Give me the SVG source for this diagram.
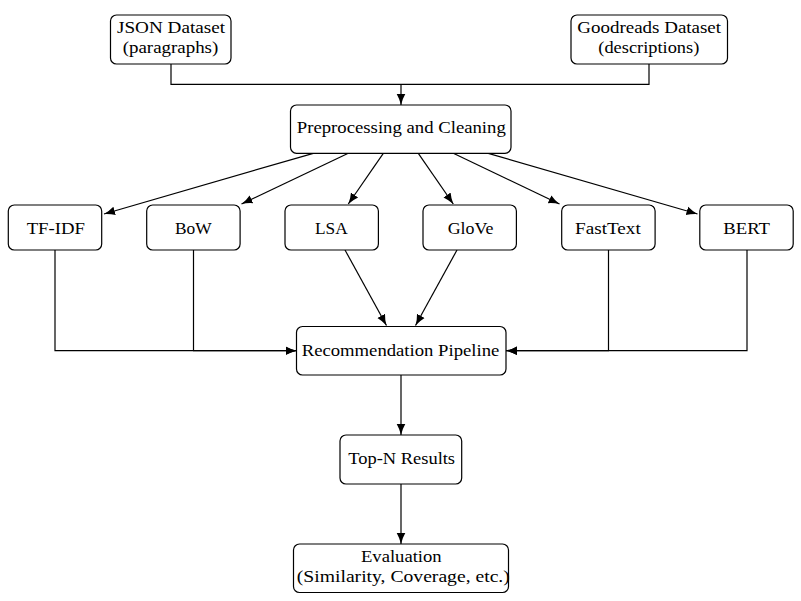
<svg xmlns="http://www.w3.org/2000/svg" width="801" height="601" viewBox="0 0 801 601">
<style>
.box{fill:#fff;stroke:#000;stroke-width:1.2}
text{font-family:'Liberation Serif','Times New Roman','DejaVu Serif',serif;font-size:17px;fill:#000;text-anchor:middle}
.edge{fill:none;stroke:#000;stroke-width:1.2}
</style>
<defs>
<marker id="arr" markerUnits="userSpaceOnUse" markerWidth="14" markerHeight="12" viewBox="0 -6 14 12" refX="11" refY="0" orient="auto">
<path d="M0,-4.3 Q5,-1.4 11,0 Q5,1.4 0,4.3 z" fill="#000"/>
</marker>
</defs>
<rect width="801" height="601" fill="#fff"/>
<g id="connectors">
<path class="edge" d="M171,64 V84.3 H401"/>
<path class="edge" d="M649,64 V84.3 H401"/>
<path class="edge" d="M401,84.3 V105" marker-end="url(#arr)"/>
<path class="edge" d="M313.3,153.3 L104,214" marker-end="url(#arr)"/>
<path class="edge" d="M348.3,153.3 L241.5,204" marker-end="url(#arr)"/>
<path class="edge" d="M383.3,153.3 L348.3,204" marker-end="url(#arr)"/>
<path class="edge" d="M418.3,153.3 L453.3,204" marker-end="url(#arr)"/>
<path class="edge" d="M453.3,153.3 L559.5,204" marker-end="url(#arr)"/>
<path class="edge" d="M488.3,153.3 L697.5,214" marker-end="url(#arr)"/>
<path class="edge" d="M55,250 V350.7 H296.5" marker-end="url(#arr)"/>
<path class="edge" d="M193.5,250 V350.7 H296.5" marker-end="url(#arr)"/>
<path class="edge" d="M345,250 L386.5,325.5" marker-end="url(#arr)"/>
<path class="edge" d="M457,250 L415.5,325.5" marker-end="url(#arr)"/>
<path class="edge" d="M608.5,250 V350.7 H506" marker-end="url(#arr)"/>
<path class="edge" d="M747,250 V350.7 H506" marker-end="url(#arr)"/>
<path class="edge" d="M401,375 V435" marker-end="url(#arr)"/>
<path class="edge" d="M401,484 V544" marker-end="url(#arr)"/>
</g>
<g id="json">
<rect class="box" x="110.5" y="15" width="120.5" height="49" rx="6"/>
<text x="171" y="33.3" textLength="108" lengthAdjust="spacingAndGlyphs">JSON Dataset</text>
<text x="170.5" y="53" textLength="95.6" lengthAdjust="spacingAndGlyphs">(paragraphs)</text>
</g>
<g id="goodreads">
<rect class="box" x="571" y="15" width="156.5" height="49" rx="6"/>
<text x="649.2" y="33.3" textLength="143.7" lengthAdjust="spacingAndGlyphs">Goodreads Dataset</text>
<text x="648.8" y="53" textLength="101" lengthAdjust="spacingAndGlyphs">(descriptions)</text>
</g>
<g id="preprocessing">
<rect class="box" x="290.5" y="105" width="220.5" height="48.3" rx="6"/>
<text x="401.3" y="133.3" textLength="209" lengthAdjust="spacingAndGlyphs">Preprocessing and Cleaning</text>
</g>
<g id="tfidf">
<rect class="box" x="8.3" y="205" width="93.4" height="45" rx="6"/>
<text x="55.8" y="234.3" textLength="58.3" lengthAdjust="spacingAndGlyphs">TF-IDF</text>
</g>
<g id="bow">
<rect class="box" x="146.7" y="205" width="93.4" height="45" rx="6"/>
<text x="193.3" y="234.3" textLength="36.7" lengthAdjust="spacingAndGlyphs">BoW</text>
</g>
<g id="lsa">
<rect class="box" x="285" y="205" width="93.4" height="45" rx="6"/>
<text x="331.3" y="234.3" textLength="32.7" lengthAdjust="spacingAndGlyphs">LSA</text>
</g>
<g id="glove">
<rect class="box" x="423" y="205" width="93.4" height="45" rx="6"/>
<text x="470.5" y="234.3" textLength="45.7" lengthAdjust="spacingAndGlyphs">GloVe</text>
</g>
<g id="fasttext">
<rect class="box" x="561.7" y="205" width="93.4" height="45" rx="6"/>
<text x="607.9" y="234.3" textLength="65.7" lengthAdjust="spacingAndGlyphs">FastText</text>
</g>
<g id="bert">
<rect class="box" x="699.8" y="205" width="93.4" height="45" rx="6"/>
<text x="746.7" y="234.3" textLength="46.7" lengthAdjust="spacingAndGlyphs">BERT</text>
</g>
<g id="pipeline">
<rect class="box" x="296.5" y="326.5" width="209.5" height="48.5" rx="6"/>
<text x="400.5" y="355.7" textLength="197.6" lengthAdjust="spacingAndGlyphs">Recommendation Pipeline</text>
</g>
<g id="topn">
<rect class="box" x="340" y="435" width="121.7" height="49" rx="6"/>
<text x="401.7" y="464" textLength="106.7" lengthAdjust="spacingAndGlyphs">Top-N Results</text>
</g>
<g id="evaluation">
<rect class="box" x="293.5" y="544" width="215" height="48.5" rx="6"/>
<text x="401.3" y="561.7" textLength="80.7" lengthAdjust="spacingAndGlyphs">Evaluation</text>
<text x="403.3" y="581.5" textLength="213" lengthAdjust="spacingAndGlyphs">(Similarity, Coverage, etc.)</text>
</g>
</svg>
